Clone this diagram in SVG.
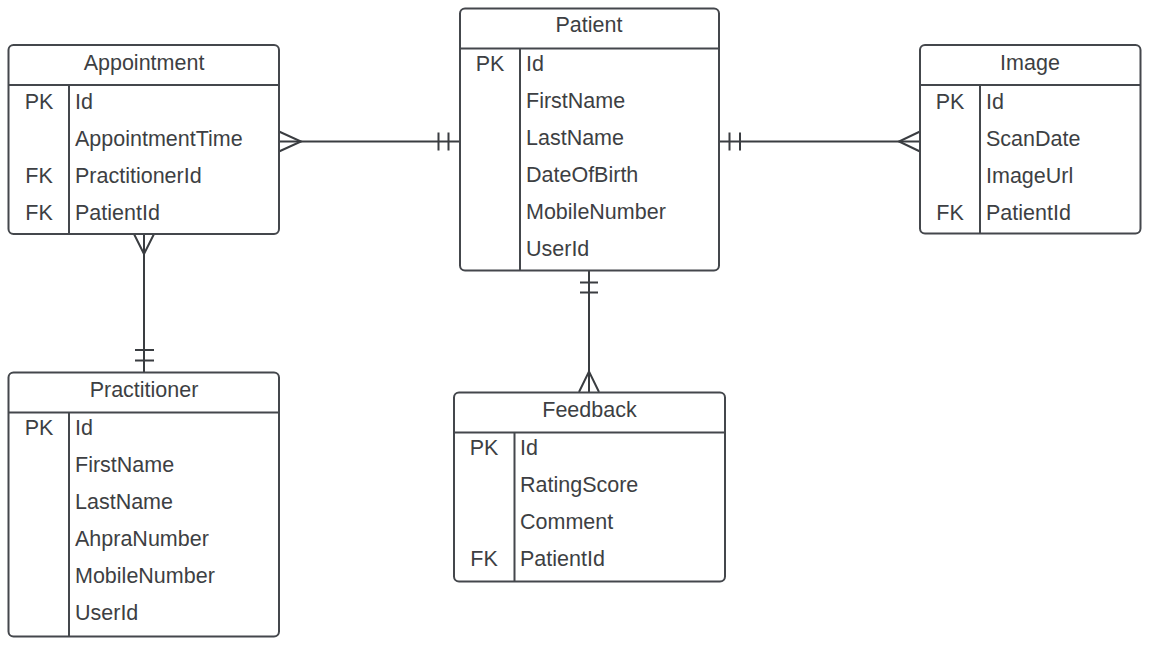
<svg xmlns="http://www.w3.org/2000/svg" width="1155" height="647" viewBox="0 0 1155 647">
<style>
.box{fill:#ffffff;stroke:#44474c;stroke-width:2}
.ln{stroke:#44474c;stroke-width:2;fill:none}
.t{font-family:"Liberation Sans",Arial,sans-serif;font-size:21.5px;fill:#3d3f43;dominant-baseline:central}
.c{text-anchor:middle}
.conn{stroke:#3a3d41;stroke-width:2;fill:none}
</style>
<rect width="1155" height="647" fill="#ffffff"/>
<g id="connectors">
  <!-- Appointment - Patient -->
  <path class="conn" d="M279,141.5 H460"/>
  <path class="conn" d="M279,131.5 L301,141.5 L279,151.5"/>
  <path class="conn" d="M438.5,132.5 V150.5 M448.5,132.5 V150.5"/>
  <!-- Patient - Image -->
  <path class="conn" d="M719,141.5 H920"/>
  <path class="conn" d="M729.5,132.5 V150.5 M740,132.5 V150.5"/>
  <path class="conn" d="M920,131.5 L899,141.5 L920,151.5"/>
  <!-- Appointment - Practitioner -->
  <path class="conn" d="M144,234 V372"/>
  <path class="conn" d="M134,234 L144,254 L154,234"/>
  <path class="conn" d="M135,350 H154 M135,360.5 H154"/>
  <!-- Patient - Feedback -->
  <path class="conn" d="M589,271 V392"/>
  <path class="conn" d="M580,282.5 H598 M580,292.5 H598"/>
  <path class="conn" d="M579,392 L589,371.5 L599,392"/>
</g>
<g id="appointment">
  <rect class="box" x="8.5" y="45" width="270.5" height="189" rx="5"/>
  <path class="ln" d="M8.5,85 H279 M69,85 V234"/>
  <text class="t c" x="144" y="63">Appointment</text>
  <text class="t c" x="39" y="102">PK</text>
  <text class="t" x="75" y="102">Id</text>
  <text class="t" x="75" y="139">AppointmentTime</text>
  <text class="t c" x="39" y="176">FK</text>
  <text class="t" x="75" y="176">PractitionerId</text>
  <text class="t c" x="39" y="213">FK</text>
  <text class="t" x="75" y="213">PatientId</text>
</g>
<g id="patient">
  <rect class="box" x="460" y="8.5" width="259" height="262" rx="5"/>
  <path class="ln" d="M460,48.5 H719 M520,48.5 V270.5"/>
  <text class="t c" x="589" y="25">Patient</text>
  <text class="t c" x="490" y="64">PK</text>
  <text class="t" x="526" y="64">Id</text>
  <text class="t" x="526" y="101">FirstName</text>
  <text class="t" x="526" y="138">LastName</text>
  <text class="t" x="526" y="175">DateOfBirth</text>
  <text class="t" x="526" y="212">MobileNumber</text>
  <text class="t" x="526" y="249">UserId</text>
</g>
<g id="image">
  <rect class="box" x="920" y="45" width="220.5" height="188.5" rx="5"/>
  <path class="ln" d="M920,85 H1140.5 M980,85 V233.5"/>
  <text class="t c" x="1030" y="63">Image</text>
  <text class="t c" x="950" y="102">PK</text>
  <text class="t" x="986" y="102">Id</text>
  <text class="t" x="986" y="139">ScanDate</text>
  <text class="t" x="986" y="176">ImageUrl</text>
  <text class="t c" x="950" y="213">FK</text>
  <text class="t" x="986" y="213">PatientId</text>
</g>
<g id="practitioner">
  <rect class="box" x="8.5" y="372.5" width="270.5" height="264" rx="5"/>
  <path class="ln" d="M8.5,412.5 H279 M69,412.5 V636.5"/>
  <text class="t c" x="144" y="390">Practitioner</text>
  <text class="t c" x="39" y="428">PK</text>
  <text class="t" x="75" y="428">Id</text>
  <text class="t" x="75" y="465">FirstName</text>
  <text class="t" x="75" y="502">LastName</text>
  <text class="t" x="75" y="539">AhpraNumber</text>
  <text class="t" x="75" y="576">MobileNumber</text>
  <text class="t" x="75" y="613">UserId</text>
</g>
<g id="feedback">
  <rect class="box" x="454" y="392.5" width="271" height="189" rx="5"/>
  <path class="ln" d="M454,432.5 H725 M514.5,432.5 V581.5"/>
  <text class="t c" x="589.5" y="410">Feedback</text>
  <text class="t c" x="484" y="448">PK</text>
  <text class="t" x="520" y="448">Id</text>
  <text class="t" x="520" y="485">RatingScore</text>
  <text class="t" x="520" y="522">Comment</text>
  <text class="t c" x="484" y="559">FK</text>
  <text class="t" x="520" y="559">PatientId</text>
</g>
</svg>
